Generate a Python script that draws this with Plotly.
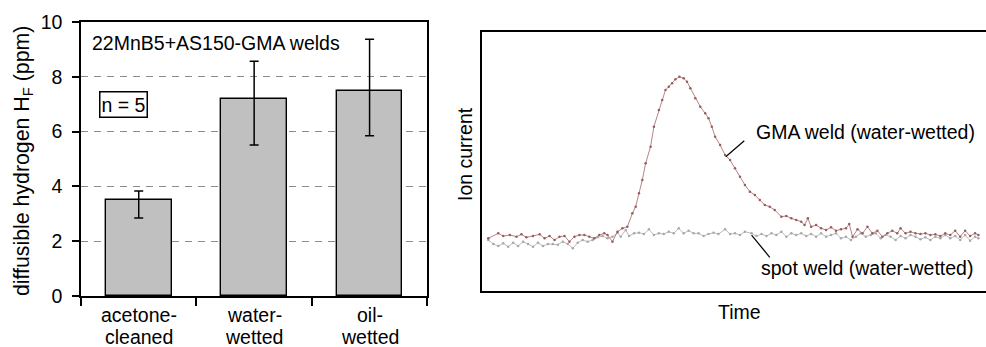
import plotly.graph_objects as go

W, H = 986, 347

# ---- Left panel data ----
cat_line1 = ["acetone-", "water-", "oil-"]
cat_line2 = ["cleaned", "wetted", "wetted"]
hf_mean = [3.5, 7.2, 7.5]
hf_err_plus = [0.33, 1.37, 1.87]
hf_err_minus = [0.65, 1.69, 1.65]
y_ticks = [0, 2, 4, 6, 8, 10]

# ---- Right panel data (arbitrary units) ----
time_gma = [55, 85, 100, 120, 140, 155, 170, 190, 210, 225, 240, 255, 270, 285, 300, 315, 330, 345, 360, 375,
            390, 405, 415, 430, 445, 460, 475, 490, 500, 510, 520, 530, 545, 555, 570, 580, 590, 600, 610, 620,
            632, 645, 655, 665, 680, 695, 710, 720, 730, 740, 755, 770, 785, 800, 815, 830, 845, 860, 875, 890,
            905, 920, 940, 955, 970, 985, 1000, 1010, 1020, 1030, 1045, 1060, 1075, 1090, 1105, 1120, 1135, 1145,
            1155, 1170, 1185, 1200, 1215, 1230, 1245, 1260, 1275, 1290, 1300, 1315, 1330, 1345, 1360, 1375, 1390,
            1405, 1420, 1435, 1450, 1465, 1480, 1495, 1510, 1525, 1535]
ion_gma = [45, 60, 52, 55, 50, 57, 48, 52, 57, 45, 52, 40, 50, 52, 35, 50, 55, 55, 50, 45,
           55, 60, 55, 35, 65, 75, 80, 120, 140, 180, 220, 270, 320, 380, 430, 460, 490, 500, 510, 522,
           530, 525, 515, 495, 465, 440, 420, 405, 380, 350, 325, 295, 280, 255, 230, 205, 185, 175, 160, 145,
           140, 130, 110, 112, 105, 100, 95, 85, 105, 80, 85, 75, 70, 78, 68, 72, 75, 88,
           50, 72, 60, 80, 60, 68, 50, 60, 68, 60, 75, 60, 65, 60, 58, 60, 55,
           57, 52, 60, 55, 68, 50, 68, 52, 60, 55]

time_spot = [55, 70, 85, 100, 115, 130, 145, 160, 175, 190, 205, 220, 235, 250, 265, 280, 295, 310, 325, 340,
             355, 370, 385, 400, 415, 430, 445, 455, 470, 480, 495, 510, 525, 540, 555, 570, 585, 600, 615, 630,
             645, 660, 675, 690, 705, 720, 735, 750, 770, 785, 800, 815, 830, 850, 865, 880, 895, 910, 925, 940,
             955, 970, 985, 1000, 1015, 1030, 1045, 1060, 1075, 1090, 1105, 1120, 1135, 1150, 1165, 1180, 1195,
             1210, 1225, 1240, 1255, 1270, 1285, 1300, 1315, 1330, 1345, 1360, 1375, 1390, 1405, 1420, 1435,
             1450, 1465, 1480, 1495, 1510, 1525, 1535]
ion_spot = [40, 28, 22, 30, 20, 32, 22, 35, 28, 20, 32, 22, 28, 28, 26, 35, 28, 15, 32, 40,
            35, 40, 48, 52, 45, 50, 62, 50, 70, 52, 60, 62, 58, 72, 55, 60, 58, 65, 60, 75,
            60, 68, 60, 60, 52, 58, 62, 58, 72, 58, 60, 55, 65, 60, 52, 58, 52, 60, 55, 65,
            50, 60, 55, 60, 52, 58, 50, 60, 50, 55, 60, 45, 50, 40, 50, 60, 50,
            55, 60, 45, 55, 50, 40, 52, 45, 55, 50, 42, 48, 40, 50, 45, 55,
            45, 52, 40, 55, 38, 50, 45]

FONT = "Liberation Sans, Arial, Helvetica, sans-serif"
FS = 19.5


def px(x):
    return x / W


def py(y):
    return 1 - y / H


fig = go.Figure()

xpos = [i + 0.5 for i in range(len(hf_mean))]
fig.add_trace(go.Bar(
    x=xpos, y=hf_mean, width=0.57,
    marker=dict(color="#c0c0c0", line=dict(color="black", width=1.4)),
    error_y=dict(type="data", symmetric=False, array=hf_err_plus, arrayminus=hf_err_minus,
                 color="black", thickness=1.5, width=4.5),
    xaxis="x", yaxis="y", showlegend=False, hoverinfo="skip",
))

fig.add_trace(go.Scatter(
    x=time_spot, y=ion_spot, mode="lines+markers",
    line=dict(color="#bbbbbb", width=1),
    marker=dict(color="#a8a8a8", size=2.5),
    xaxis="x2", yaxis="y2", showlegend=False, hoverinfo="skip",
))
fig.add_trace(go.Scatter(
    x=time_gma, y=ion_gma, mode="lines+markers",
    line=dict(color="#b88484", width=1),
    marker=dict(color="#955d5d", size=2.5),
    xaxis="x2", yaxis="y2", showlegend=False, hoverinfo="skip",
))

annotations = []
for i, (l1, l2) in enumerate(zip(cat_line1, cat_line2)):
    annotations.append(dict(x=xpos[i], y=py(315), xref="x", yref="paper", text=l1, showarrow=False,
                            xanchor="center", yanchor="middle", font=dict(size=FS, color="black")))
    annotations.append(dict(x=xpos[i], y=py(337), xref="x", yref="paper", text=l2, showarrow=False,
                            xanchor="center", yanchor="middle", font=dict(size=FS, color="black")))

annotations += [
    dict(x=px(23), y=py(161), xref="paper", yref="paper", textangle=-90,
         text="diffusible hydrogen H<sub>F</sub> (ppm)", showarrow=False,
         xanchor="center", yanchor="middle", font=dict(size=21.3, color="black")),
    dict(x=px(90), y=py(43), xref="paper", yref="paper", text="22MnB5+AS150-GMA welds",
         showarrow=False, xanchor="left", yanchor="middle", font=dict(size=FS, color="black")),
    dict(x=px(123), y=py(105), xref="paper", yref="paper", text="n = 5", showarrow=False,
         xanchor="center", yanchor="middle", font=dict(size=FS, color="black"),
         bordercolor="black", borderwidth=1.5, borderpad=1, bgcolor="white"),
    dict(x=px(465), y=py(154), xref="paper", yref="paper", textangle=-90, text="Ion current",
         showarrow=False, xanchor="center", yanchor="middle", font=dict(size=FS, color="black")),
    dict(x=px(739), y=py(312), xref="paper", yref="paper", text="Time",
         showarrow=False, xanchor="center", yanchor="middle", font=dict(size=FS, color="black")),
    dict(x=1530, y=364, xref="x2", yref="y2", text="GMA weld (water-wetted)",
         showarrow=False, xanchor="right", yanchor="middle", font=dict(size=FS, color="black")),
    dict(x=1525, y=-44, xref="x2", yref="y2", text="spot weld (water-wetted)",
         showarrow=False, xanchor="right", yanchor="middle", font=dict(size=FS, color="black")),
]

shapes = [
    dict(type="line", xref="x2", yref="y2", x0=772, y0=290, x1=828, y1=338,
         line=dict(color="black", width=1.2)),
    dict(type="line", xref="x2", yref="y2", x0=850, y0=55, x1=905, y1=-12,
         line=dict(color="black", width=1.2)),
]

fig.update_layout(
    width=W, height=H, autosize=False,
    margin=dict(l=0, r=0, t=0, b=0, pad=0),
    paper_bgcolor="white", plot_bgcolor="white",
    font=dict(family=FONT, size=FS, color="black"),
    bargap=0,
    xaxis=dict(domain=[px(81), px(427.3)], range=[0, 3], showline=True, linecolor="black", linewidth=1.5,
               mirror=True, tickvals=[0, 1, 2, 3], ticks="outside", ticklen=8, tickwidth=1.5,
               tickcolor="black", showticklabels=False, showgrid=False, zeroline=False, fixedrange=True,
               automargin=False),
    yaxis=dict(domain=[py(296), py(22)], range=[0, 10], tickvals=y_ticks, ticks="outside", ticklen=7,
               tickwidth=1.5, tickcolor="black", showline=True, linecolor="black", linewidth=1.5,
               mirror=True, showgrid=True, gridcolor="#8c8c8c", gridwidth=1.3, griddash="7px,6px",
               zeroline=False, tickfont=dict(size=FS), ticklabelstandoff=6, fixedrange=True,
               automargin=False),
    xaxis2=dict(domain=[px(481.7), 1.0], range=[35, 1558], showline=True, linecolor="black",
                linewidth=1.8, mirror=True, showticklabels=False, ticks="", showgrid=False,
                zeroline=False, anchor="y2", fixedrange=True, automargin=False),
    yaxis2=dict(domain=[py(290.7), py(32)], range=[-112, 664], showline=True, linecolor="black",
                linewidth=1.8, mirror=True, showticklabels=False, ticks="", showgrid=False,
                zeroline=False, anchor="x2", fixedrange=True, automargin=False),
    annotations=annotations,
    shapes=shapes,
)

fig.write_html("out.html", config={"responsive": False, "displayModeBar": False},
               post_script="document.body.style.margin='0';document.body.style.padding='0';")
